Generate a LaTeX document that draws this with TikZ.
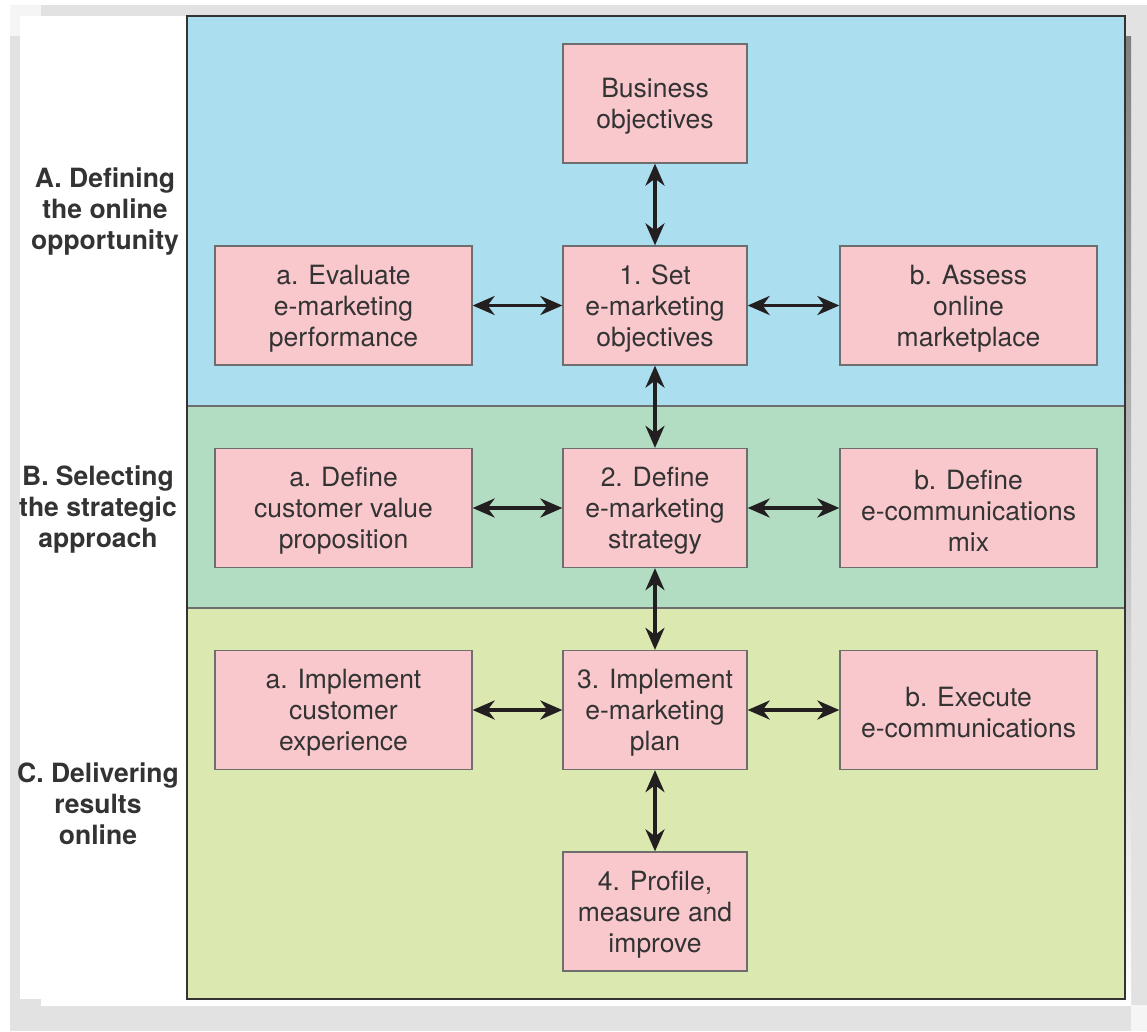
\documentclass[tikz,border=0pt]{standalone}
\usepackage{fontspec}
\setmainfont{TeX Gyre Heros}
\usetikzlibrary{arrows.meta}
\definecolor{frame}{HTML}{E2E2E2}
\definecolor{shade}{HTML}{939393}
\definecolor{bandA}{HTML}{ABDEEF}
\definecolor{bandB}{HTML}{B2DDC3}
\definecolor{bandC}{HTML}{DBE8B0}
\definecolor{boxfill}{HTML}{F9C8CC}
\definecolor{boxline}{HTML}{6E6E6E}
\definecolor{ink}{HTML}{333333}
\definecolor{arrowink}{HTML}{231F20}
\tikzset{
  boxtext/.style={align=center, text=ink, inner sep=0pt, yshift=-3pt,
    font=\fontsize{26.5}{31}\selectfont},
  stagebox/.style={rectangle, draw=boxline, line width=1.3pt, fill=boxfill,
    inner sep=0pt, label={[boxtext]center:#1}},
  narrowbox/.style={stagebox={#1}, minimum width=184pt, minimum height=119pt},
  widebox/.style={stagebox={#1}, minimum width=257pt, minimum height=119pt},
  phase/.style={align=center, text=ink, font=\bfseries\fontsize{26.5}{31}\selectfont},
  link/.style={arrowink, line width=3.5pt,
    {Stealth[length=22pt,width=19pt,inset=7pt]}-{Stealth[length=22pt,width=19pt,inset=7pt]}},
  band/.style={draw=boxline, line width=1.3pt}
}
\begin{document}
\begin{tikzpicture}[x=1pt,y=-1pt]
\useasboundingbox (0,0) rectangle (1147,1031);
% page frame and drop shadow
\fill[white] (0,0) rectangle (1147,1031);
\fill[frame] (10,5) rectangle (1147,1031);
\fill[black!4] (10,5) rectangle (41,36);
\fill[black!4] (1131,1005) rectangle (1147,1031);
\fill[shade] (41,36) rectangle (1131,1005);
\fill[white] (20,16) rectangle (187,999);
% three phase bands
\fill[bandA] (187,16) rectangle (1125,406);
\fill[bandB] (187,406) rectangle (1125,608);
\fill[bandC] (187,608) rectangle (1125,999);
\draw[band] (187,406) -- (1125,406);
\draw[band] (187,608) -- (1125,608);
\draw[draw=black!80, line width=2pt] (187,16) rectangle (1125,999);

% phase labels
\node[phase] (pa) at (105,212) {A. Defining\\the online\\opportunity};
\node[phase] (pb) at (98,510) {B. Selecting\\the strategic\\approach};
\node[phase] (pc) at (98,804) {C. Delivering\\results\\online};

% boxes
\node[narrowbox={Business\\objectives}] (bus) at (655,103.5) {};
\node[narrowbox={1. Set\\e-marketing\\objectives}] (set) at (655,305.5) {};
\node[widebox={a. Evaluate\\e-marketing\\performance}] (eval) at (343.5,305.5) {};
\node[widebox={b. Assess\\online\\marketplace}] (assess) at (968.5,305.5) {};

\node[narrowbox={2. Define\\e-marketing\\strategy}] (strat) at (655,508) {};
\node[widebox={a. Define\\customer value\\proposition}] (cvp) at (343.5,508) {};
\node[widebox={b. Define\\e-communications\\mix}] (ecmix) at (968.5,508) {};

\node[narrowbox={3. Implement\\e-marketing\\plan}] (plan) at (655,710) {};
\node[widebox={a. Implement\\customer\\experience}] (cx) at (343.5,710) {};
\node[widebox={b. Execute\\e-communications}] (exec) at (968.5,710) {};

\node[narrowbox={4. Profile,\\measure and\\improve}] (prof) at (655,911.5) {};

% connectors
\draw[link] (bus.south) -- (set.north);
\draw[link] (eval.east) -- (set.west);
\draw[link] (set.east) -- (assess.west);
\draw[link] (set.south) -- (strat.north);
\draw[link] (cvp.east) -- (strat.west);
\draw[link] (strat.east) -- (ecmix.west);
\draw[link] (strat.south) -- (plan.north);
\draw[link] (cx.east) -- (plan.west);
\draw[link] (plan.east) -- (exec.west);
\draw[link] (plan.south) -- (prof.north);
\end{tikzpicture}
\end{document}
